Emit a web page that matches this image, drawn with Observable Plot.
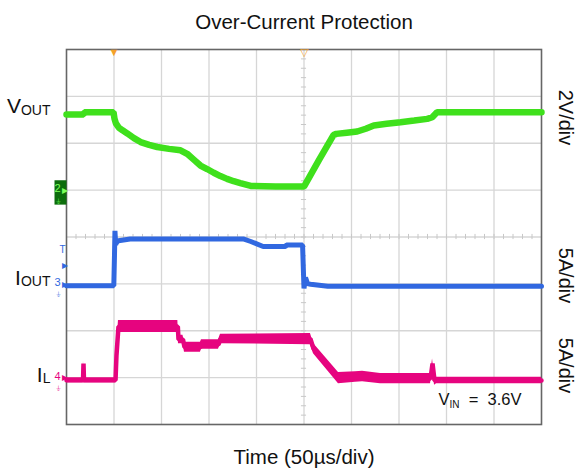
<!DOCTYPE html>
<html><head><meta charset="utf-8">
<script src="https://cdn.jsdelivr.net/npm/d3@7"></script>
<script src="https://cdn.jsdelivr.net/npm/@observablehq/plot@0.6"></script>
<style>
html,body{margin:0;padding:0;background:#fff;}
#chart{width:576px;height:471px;}
</style></head><body><div id="chart"></div>
<script>
// ---- data (time in µs, 50 µs/div; values in V or A) ----
const title = "Over-Current Protection";
const xLabel = "Time (50µs/div)";
const vinLabel = {main: "V", sub: "IN", rest: "  =  3.6V"};

const channelNames = ["VOUT", "IOUT", "IL"];
const channelMain = ["V", "I", "I"];
const channelSub = ["OUT", "OUT", "L"];
const channelNumber = ["2", "3", "4"];
const channelOffsetDiv = [5, 3, 1];       // ground marker position (divisions)
const channelUnitsPerDiv = [2, 5, 5];     // 2 V/div, 5 A/div, 5 A/div
const channelScaleLabels = ["2V/div", "5A/div", "5A/div"];
const channelColors = ["#3fe01c", "#3168e0", "#e6047f"];

const triggerTimes = [50, 250];           // trigger marker, delayed marker

const voutT = [0, 18, 18.8, 49.5, 50.5, 52, 55, 59, 64, 71, 78, 87, 95.5, 108, 120, 127, 134, 141, 148, 155, 162, 169, 176, 183, 194, 220, 250, 266, 281, 284, 295, 306, 315, 323.5, 337, 351.6, 366, 379.7, 385, 390, 420, 500];
const voutV = [3.23, 3.23, 3.32, 3.32, 3.05, 2.85, 2.67, 2.55, 2.42, 2.22, 2.05, 1.93, 1.84, 1.76, 1.70, 1.55, 1.30, 1.05, 0.90, 0.74, 0.60, 0.48, 0.38, 0.30, 0.18, 0.15, 0.15, 1.30, 2.35, 2.40, 2.45, 2.50, 2.62, 2.76, 2.83, 2.90, 2.97, 3.04, 3.11, 3.32, 3.32, 3.32];

const ioutT = [0, 49.8, 50.5, 51, 51.8, 52.6, 54.7, 67, 186, 194, 207, 230.5, 231.6, 248.5, 249.5, 250, 251.6, 253.7, 257, 275, 500];
const ioutA = [-0.2, -0.2, 3.0, 5.66, 4.2, 4.41, 4.6, 4.79, 4.79, 4.52, 3.99, 3.99, 4.15, 4.15, 1.0, -0.49, 0.68, 0.04, -0.04, -0.25, -0.25];

const ilT = [0, 17.4, 17.9, 18.4, 51.6, 52.6, 54.7, 117.2, 117.9, 122.6, 124.2, 141, 142.1, 160, 162.1, 256.8, 260, 286.3, 304.2, 311.6, 330.5, 383.2, 385.3, 387.4, 389.5, 500];
const ilA = [-0.28, -0.28, 1.5, -0.28, -0.28, 2.36, 5.45, 5.45, 4.07, 4.07, 3.25, 3.25, 3.53, 3.53, 4.12, 4.12, 3.1, -0.04, 0.07, 0.12, -0.1, -0.1, 1.5, -0.3, -0.31, -0.31];
const ilRipple = [0.27, 0.27, 0.27, 0.27, 0.27, 0.4, 0.64, 0.64, 0.45, 0.45, 0.53, 0.53, 0.5, 0.5, 0.5, 0.6, 0.55, 0.6, 0.55, 0.55, 0.55, 0.55, 0.5, 0.5, 0.35, 0.35];

// ---- build ----
const toDiv = (k, v) => channelOffsetDiv[k] + v / channelUnitsPerDiv[k];
const vout = voutT.map((t, i) => ({t, y: toDiv(0, voutV[i])}));
const iout = ioutT.map((t, i) => ({t, y: toDiv(1, ioutA[i])}));
const il = ilT.map((t, i) => ({t, y: toDiv(2, ilA[i]), y1: toDiv(2, ilA[i] - ilRipple[i]), y2: toDiv(2, ilA[i] + ilRipple[i])}));

const majorX = d3.range(50, 500, 50);
const majorY = d3.range(1, 8, 1);
const minorX = d3.range(0, 500.001, 10);
const minorY = d3.range(0, 8.001, 0.2);

const leftLabels = channelNames.map((n, k) => ({main: channelMain[k], sub: channelSub[k], k}));
const leftLabelY = [6.78, 3.13, 1.06];
const rightLabelY = [6.55, 3.18, 1.26];
const chMarkers = channelNumber.map((c, k) => ({c, k, y: channelOffsetDiv[k]}));

const font = "Liberation Sans, Arial, Helvetica, sans-serif";
const orange = "#f4a12a";
const markColor = d => d.k === 0 ? "#7dff5a" : channelColors[d.k];

const svg = Plot.plot({
  width: 576, height: 471,
  marginLeft: 66, marginRight: 35, marginTop: 49, marginBottom: 47,
  x: {domain: [0, 500], axis: null},
  y: {domain: [0, 8], axis: null},
  style: {fontFamily: font, background: "white", color: "black", overflow: "visible"},
  marks: [
    Plot.ruleX(majorX, {x: d => d, stroke: "#d6d6d6", strokeWidth: 1.3, strokeOpacity: 1}),
    Plot.ruleY(majorY, {y: d => d, stroke: "#d6d6d6", strokeWidth: 1.3, strokeOpacity: 1}),
    Plot.ruleX(minorX, {x: d => d, y1: 3.945, y2: 4.055, stroke: "#c8c8c8", strokeWidth: 1}),
    Plot.ruleY(minorY, {y: d => d, x1: 247.3, x2: 252.7, stroke: "#c8c8c8", strokeWidth: 1}),
    Plot.frame({stroke: "#666", strokeWidth: 1.6}),
    // traces
    Plot.areaY(il, {x: "t", y1: "y1", y2: "y2", fill: channelColors[2], curve: "linear"}),
    Plot.lineY(il, {x: "t", y: "y", stroke: channelColors[2], strokeWidth: 4.5, strokeLinejoin: "miter"}),
    Plot.lineY(iout, {x: "t", y: "y", stroke: channelColors[1], strokeWidth: 5, strokeLinejoin: "miter"}),
    Plot.lineY(vout, {x: "t", y: "y", stroke: channelColors[0], strokeWidth: 6.5, strokeLinejoin: "miter"}),
    // trigger markers
    Plot.text([triggerTimes[0]], {x: d => d, y: 8, text: () => "▼", fill: orange, fontSize: 11, dy: 3}),
    Plot.text([triggerTimes[1]], {x: d => d, y: 8, text: () => "▽", fill: orange, fontSize: 11, dy: 3}),
    // channel ground markers
    Plot.ruleX([chMarkers[0]], {x: 0, y1: d => d.y - 0.32, y2: d => d.y + 0.2, dx: -6, stroke: "#0c6d0c", strokeWidth: 12}),
    Plot.text(chMarkers, {x: 0, y: d => d.y + 0.03, text: "c", dx: -9, fill: markColor, fontSize: 11}),
    Plot.text(chMarkers, {x: 0, y: "y", text: () => "▸", dx: -2, fill: markColor, fontSize: 12}),
    Plot.text(chMarkers, {x: 0, y: d => d.y - 0.24, text: () => "⏚", dx: -8, fill: markColor, fontSize: 7}),
    Plot.text([3.72], {x: 0, y: d => d, text: () => "T", dx: -4, fill: channelColors[1], fontSize: 10}),
    Plot.text([3.39], {x: 0, y: d => d, text: () => "▸", dx: -2, fill: channelColors[1], fontSize: 12}),
    // labels
    Plot.text(leftLabels, {x: 0, y: d => leftLabelY[d.k], text: d => d.main + d.sub, dx: -16, textAnchor: "end", fontSize: 21, fill: "#111"}),
    Plot.text(channelScaleLabels, {x: 500, y: (d, i) => rightLabelY[i], text: d => d, dx: 24, rotate: 90, fontSize: 20, fill: "#111"}),
    Plot.text([vinLabel], {x: 500, y: 0.52, text: d => d.main + d.sub + d.rest, dx: -20, textAnchor: "end", fontSize: 16.5, fill: "#111"}),
    Plot.text([title], {frameAnchor: "top", text: d => d, dy: -35, fontSize: 20.5, fill: "#111"}),
    Plot.text([xLabel], {frameAnchor: "bottom", text: d => d, dy: 39, fontSize: 20.5, fill: "#111"})
  ]
});

// subscripts
d3.select(svg).selectAll("text").each(function() {
  const s = this.textContent;
  const L = leftLabels.find(l => l.main + l.sub === s);
  if (L) {
    const t = d3.select(this); t.text("");
    t.append("tspan").text(L.main);
    t.append("tspan").attr("font-size", 14).attr("dy", "0.1em").text(L.sub);
  } else if (s === vinLabel.main + vinLabel.sub + vinLabel.rest) {
    const t = d3.select(this); t.text("").style("white-space", "pre");
    t.append("tspan").text(vinLabel.main);
    t.append("tspan").attr("font-size", 10).attr("dy", 3).text(vinLabel.sub);
    t.append("tspan").attr("dy", -3).text(vinLabel.rest);
  }
});
document.getElementById("chart").appendChild(svg);
</script></body></html>
